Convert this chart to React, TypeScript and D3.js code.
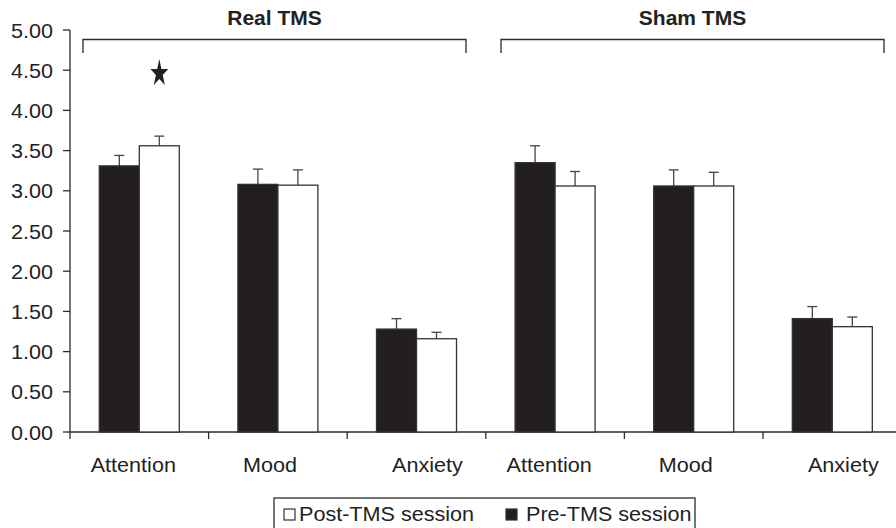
import React, { useEffect, useRef } from "react";
import * as d3 from "d3";

// category labels along the x axis (two groups of three)
const categories = ["Attention", "Mood", "Anxiety", "Attention", "Mood", "Anxiety"];
const groups = ["Real TMS", "Sham TMS"];
const series = ["Pre-TMS session", "Post-TMS session"];

// mean scores
const preValues = [3.31, 3.08, 1.28, 3.35, 3.06, 1.41];
const postValues = [3.56, 3.07, 1.16, 3.06, 3.06, 1.31];
// upper error bars (SE)
const preErrors = [0.13, 0.19, 0.13, 0.21, 0.2, 0.15];
const postErrors = [0.12, 0.19, 0.08, 0.18, 0.17, 0.12];

const yTicks = [0, 0.5, 1, 1.5, 2, 2.5, 3, 3.5, 4, 4.5, 5];
const starAt = { index: 0, series: "Post-TMS session", value: 4.46 };

const W = 896;
const H = 528;
const FONT = "'Liberation Sans', Arial, sans-serif";
const INK = "#2b2b2b";
const SX = 1.08; // text in the source is a little wider than plain Arial
// labels in the source sit a bit off their category centre
const labelShift: Record<string, number> = { Attention: -6, Mood: -8, Anxiety: 11 };

export default function App() {
  const ref = useRef<SVGSVGElement | null>(null);

  useEffect(() => {
    const svg = d3.select(ref.current);
    svg.selectAll("*").remove();

    const text = (
      g: d3.Selection<any, any, any, any>,
      x: number,
      y: number,
      s: string,
      anchor = "start"
    ) =>
      g
        .append("text")
        .attr("transform", `translate(${x},${y}) scale(${SX},1)`)
        .attr("text-anchor", anchor)
        .attr("font-family", FONT)
        .attr("font-size", 20)
        .attr("fill", "#222")
        .text(s);

    const x = d3
      .scaleBand<number>()
      .domain(categories.map((_, i) => i))
      .range([70, 70 + 138.6 * 6])
      .padding(0);
    const inner = d3
      .scaleBand<string>()
      .domain(series)
      .range([x.bandwidth() / 2 - 40, x.bandwidth() / 2 + 40]);
    const y = d3.scaleLinear().domain([0, 5]).range([432, 30]);

    // y axis
    svg
      .append("line")
      .attr("x1", 70)
      .attr("x2", 70)
      .attr("y1", y(0))
      .attr("y2", y(5))
      .attr("stroke", INK)
      .attr("stroke-width", 1.3);
    const yt = svg.append("g");
    yt.selectAll("line")
      .data(yTicks)
      .join("line")
      .attr("x1", 63)
      .attr("x2", 70)
      .attr("y1", (d) => y(d))
      .attr("y2", (d) => y(d))
      .attr("stroke", INK)
      .attr("stroke-width", 1.3);
    yTicks.forEach((d) => text(yt, 53, y(d) + 7.5, d.toFixed(2), "end"));

    // x axis
    svg
      .append("line")
      .attr("x1", 70)
      .attr("x2", W)
      .attr("y1", y(0))
      .attr("y2", y(0))
      .attr("stroke", INK)
      .attr("stroke-width", 1.3);
    svg
      .append("g")
      .selectAll("line")
      .data(d3.range(categories.length))
      .join("line")
      .attr("x1", (d) => x(d)!)
      .attr("x2", (d) => x(d)!)
      .attr("y1", y(0))
      .attr("y2", y(0) + 7)
      .attr("stroke", INK)
      .attr("stroke-width", 1.3);
    const xl = svg.append("g");
    categories.forEach((c, i) =>
      text(xl, x(i)! + x.bandwidth() / 2 + (labelShift[c] || 0), 472, c, "middle")
    );

    // bars + error bars
    const rows = categories.flatMap((_, i) => [
      { i, s: series[0], v: preValues[i], e: preErrors[i] },
      { i, s: series[1], v: postValues[i], e: postErrors[i] },
    ]);
    const cx = (d: { i: number; s: string }) => x(d.i)! + inner(d.s)! + inner.bandwidth() / 2;
    const bars = svg.append("g");
    bars
      .selectAll("line.err")
      .data(rows)
      .join("line")
      .attr("class", "err")
      .attr("x1", cx)
      .attr("x2", cx)
      .attr("y1", (d) => y(d.v))
      .attr("y2", (d) => y(d.v + d.e))
      .attr("stroke", "#444")
      .attr("stroke-width", 1.3);
    bars
      .selectAll("line.cap")
      .data(rows)
      .join("line")
      .attr("class", "cap")
      .attr("x1", (d) => cx(d) - 5)
      .attr("x2", (d) => cx(d) + 5)
      .attr("y1", (d) => y(d.v + d.e))
      .attr("y2", (d) => y(d.v + d.e))
      .attr("stroke", "#444")
      .attr("stroke-width", 1.3);
    bars
      .selectAll("rect")
      .data(rows)
      .join("rect")
      .attr("x", (d) => x(d.i)! + inner(d.s)!)
      .attr("y", (d) => y(d.v))
      .attr("width", inner.bandwidth())
      .attr("height", (d) => y(0) - y(d.v))
      .attr("fill", (d) => (d.s === series[0] ? "#231f20" : "#fff"))
      .attr("stroke", "#333")
      .attr("stroke-width", 1.3);

    // significance star
    svg
      .append("path")
      .attr("d", d3.symbol(d3.symbolStar, 110)())
      .attr(
        "transform",
        `translate(${cx({ i: starAt.index, s: starAt.series })},${y(starAt.value)}) scale(0.95,1.45)`
      )
      .attr("fill", "#222");

    // group brackets
    const brackets = [
      { x1: 83, x2: 466 },
      { x1: 501, x2: 884 },
    ];
    brackets.forEach((b, k) => {
      svg
        .append("path")
        .attr("d", `M${b.x1},53V39.5H${b.x2}V53`)
        .attr("fill", "none")
        .attr("stroke", INK)
        .attr("stroke-width", 1.3);
      svg
        .append("text")
        .attr("x", (b.x1 + b.x2) / 2)
        .attr("y", 25)
        .attr("text-anchor", "middle")
        .attr("font-family", FONT)
        .attr("font-weight", "bold")
        .attr("font-size", 21)
        .attr("fill", "#222")
        .text(groups[k]);
    });

    // legend
    const lg = svg.append("g");
    lg.append("rect")
      .attr("x", 274)
      .attr("y", 498)
      .attr("width", 421)
      .attr("height", 60)
      .attr("fill", "#fff")
      .attr("stroke", INK)
      .attr("stroke-width", 1.3);
    const items = [
      { s: series[1], sx: 284, tx: 299 },
      { s: series[0], sx: 506, tx: 526 },
    ];
    items.forEach((it) => {
      lg.append("rect")
        .attr("x", it.sx)
        .attr("y", 509)
        .attr("width", 11)
        .attr("height", 11)
        .attr("fill", it.s === series[0] ? "#231f20" : "#fff")
        .attr("stroke", "#333")
        .attr("stroke-width", 1.2);
      text(lg, it.tx, 521, it.s);
    });
  }, []);

  return (
    <svg
      ref={ref}
      width={W}
      height={H}
      style={{ position: "absolute", left: 0, top: 0, background: "#fff" }}
    />
  );
}
